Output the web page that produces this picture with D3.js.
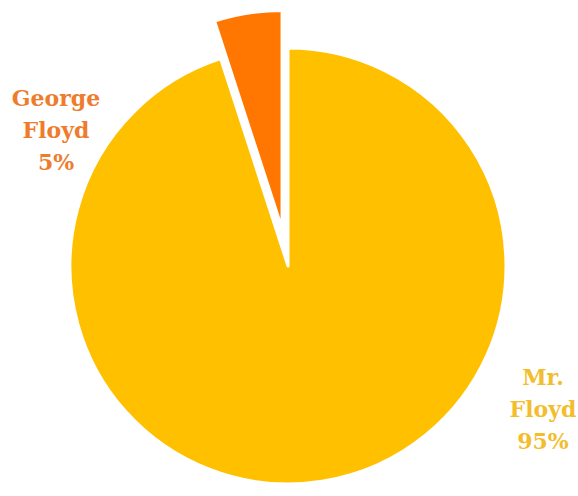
<!DOCTYPE html>
<html>
<head>
<meta charset="utf-8">
<script src="https://cdn.jsdelivr.net/npm/d3@7"></script>
<style>
  html, body { margin: 0; padding: 0; background: #fff; }
  svg { display: block; }
  .label { font-family: "DejaVu Serif", "Liberation Serif", "Times New Roman", serif; font-weight: bold; font-size: 22px; }
</style>
</head>
<body>
<svg width="578" height="496"></svg>
<script>
const names = ["Mr. Floyd", "George Floyd"];
const shares = [95, 5];
const sliceColors = ["#FFC000", "#FF7700"];
const labelColors = ["#F2BE2E", "#EE7C2C"];
const labelLines = [["Mr.", "Floyd", "95%"], ["George", "Floyd", "5%"]];

const width = 578, height = 496;
const cx = 288, cy = 266, radius = 218;
const explode = [0, 38];
// hand placed label blocks (x centre, first baseline)
const labelAt = [[543, 385], [56, 106]];

const svg = d3.select("svg");
const g = svg.append("g").attr("transform", `translate(${cx},${cy})`);

const pie = d3.pie().sort(null).value(d => d);
const arcs = pie(shares);
const arc = d3.arc().innerRadius(0).outerRadius(radius);

g.selectAll(".slice")
  .data(arcs)
  .enter()
  .append("path")
  .attr("class", "slice")
  .attr("transform", (d, i) => {
    const mid = (d.startAngle + d.endAngle) / 2;
    return `translate(${Math.sin(mid) * explode[i]},${-Math.cos(mid) * explode[i]})`;
  })
  .attr("d", arc)
  .style("fill", (d, i) => sliceColors[i])
  .style("stroke", "#fff")
  .style("stroke-width", 3)
  .style("stroke-linejoin", "round");

const labels = svg.selectAll(".label")
  .data(arcs)
  .enter()
  .append("text")
  .attr("class", "label")
  .attr("x", (d, i) => labelAt[i][0])
  .attr("y", (d, i) => labelAt[i][1])
  .attr("text-anchor", "middle")
  .style("fill", (d, i) => labelColors[i]);

labels.selectAll("tspan")
  .data((d, i) => labelLines[i].map(t => ({ t, i })))
  .enter()
  .append("tspan")
  .attr("x", d => labelAt[d.i][0])
  .attr("dy", (d, j) => j === 0 ? 0 : 32)
  .text(d => d.t);
</script>
</body>
</html>
